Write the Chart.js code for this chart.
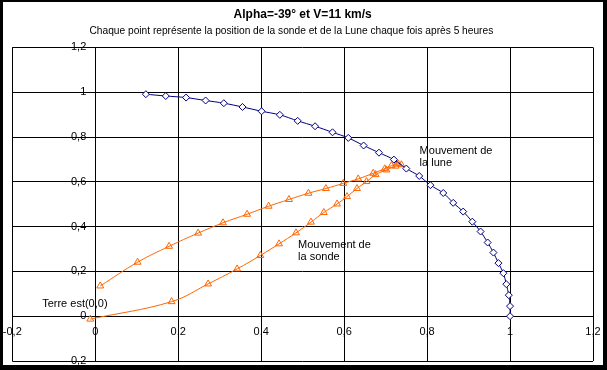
<!DOCTYPE html>
<html>
<head>
<meta charset="utf-8">
<script src="https://cdn.jsdelivr.net/npm/chart.js@4/dist/chart.umd.min.js"></script>
<style>
html,body{margin:0;padding:0;background:#fff;}
#wrap{width:607px;height:370px;position:relative;}
</style>
</head>
<body>
<div id="wrap"><canvas id="c" width="607" height="370"></canvas></div>
<script>
// Moon positions (every 5 hours)
const luneX = [0.122,0.170,0.219,0.266,0.310,0.355,0.401,0.445,0.488,0.530,0.572,0.610,0.647,0.684,0.720,0.750,0.781,0.808,0.839,0.863,0.887,0.909,0.929,0.946,0.960,0.972,0.984,0.991,0.997,1.000,1.000];
const luneY = [0.991,0.983,0.976,0.963,0.951,0.934,0.915,0.899,0.872,0.848,0.821,0.796,0.762,0.730,0.699,0.659,0.626,0.585,0.550,0.506,0.467,0.422,0.378,0.329,0.284,0.237,0.192,0.143,0.094,0.045,0.000];
// Probe positions (every 5 hours)
const sondeX = [-0.012,0.184,0.272,0.342,0.398,0.443,0.484,0.520,0.551,0.583,0.607,0.631,0.654,0.676,0.702,0.724,0.738,0.730,0.714,0.698,0.670,0.634,0.598,0.556,0.514,0.467,0.418,0.366,0.308,0.248,0.178,0.102,0.012];
const sondeY = [-0.013,0.065,0.144,0.211,0.271,0.323,0.372,0.420,0.463,0.501,0.534,0.570,0.601,0.632,0.653,0.670,0.676,0.680,0.672,0.658,0.638,0.613,0.593,0.570,0.549,0.521,0.491,0.455,0.417,0.371,0.312,0.241,0.135];
// Tick labels
const xTickLabels = ['-0,2','0','0,2','0,4','0,6','0,8','1','1,2'];
const yTickLabels = ['-0,2','0','0,2','0,4','0,6','0,8','1','1,2'];
const tickValues = [-0.2,0,0.2,0.4,0.6,0.8,1,1.2];

const TITLE = 'Alpha=-39° et V=11 km/s';
const SUBTITLE = 'Chaque point représente la position de la sonde et de la Lune chaque fois après 5 heures';

const FONT = "'Liberation Sans', Arial, sans-serif";

function toPoints(xs, ys){ return xs.map((x,i)=>({x:x, y:ys[i]})); }
function labelFor(labels, v){
  const i = tickValues.findIndex(t => Math.abs(t - v) < 1e-6);
  return i >= 0 ? labels[i] : '';
}

const annotations = [
  {x:0.782, y:0.738, lines:['Mouvement de','la lune']},
  {x:0.489, y:0.318, lines:['Mouvement de','la sonde']},
  {x:-0.128, y:0.055, lines:['Terre est(0,0)']}
];

// Draws the y tick labels just left of the y axis (which sits at x = 0)
const yLabelPlugin = {
  id:'yLabels',
  afterDraw(chart){
    const ctx = chart.ctx, xs = chart.scales.x, ys = chart.scales.y;
    const axisX = xs.getPixelForValue(0);
    ctx.save();
    ctx.fillStyle = '#000';
    ctx.font = '11px ' + FONT;
    ctx.textAlign = 'right';
    ctx.textBaseline = 'middle';
    ys.ticks.forEach(t => {
      ctx.fillText(labelFor(yTickLabels, t.value), axisX - 9, ys.getPixelForValue(t.value));
    });
    ctx.restore();
  }
};

// Subtitle line (slightly left of centre, as in the original)
const subtitlePlugin = {
  id:'sub',
  afterDraw(chart){
    const ctx = chart.ctx;
    ctx.save();
    ctx.fillStyle = '#000';
    ctx.font = '10.2px ' + FONT;
    ctx.textAlign = 'center';
    ctx.textBaseline = 'middle';
    ctx.fillText(SUBTITLE, chart.width * 0.48, 31.5);
    ctx.restore();
  }
};

const annotPlugin = {
  id:'annot',
  afterDatasetsDraw(chart){
    const ctx = chart.ctx, xs = chart.scales.x, ys = chart.scales.y;
    ctx.save();
    ctx.fillStyle = '#000';
    ctx.font = '11px ' + FONT;
    ctx.textBaseline = 'middle';
    ctx.textAlign = 'left';
    annotations.forEach(a => {
      const px = xs.getPixelForValue(a.x), py = ys.getPixelForValue(a.y);
      a.lines.forEach((t,i) => ctx.fillText(t, px, py + i*12.5));
    });
    ctx.restore();
  }
};

const framePlugin = {
  id:'frame',
  beforeDraw(chart){
    const ctx = chart.ctx;
    ctx.save();
    ctx.fillStyle = '#fff';
    ctx.fillRect(0,0,chart.width,chart.height);
    ctx.restore();
  },
  afterDraw(chart){
    const ctx = chart.ctx, w = chart.width, h = chart.height;
    ctx.save();
    ctx.fillStyle = '#000';
    ctx.fillRect(0,0,w,2);
    ctx.fillRect(0,0,3,h);
    ctx.fillRect(w-4,0,4,h);
    ctx.fillRect(0,h-5,w,5);
    ctx.restore();
  }
};

new Chart(document.getElementById('c'), {
  type:'scatter',
  data:{
    datasets:[
      {
        label:'Lune',
        data: toPoints(luneX, luneY),
        showLine:true,
        borderColor:'#000080',
        borderWidth:1,
        tension:0.3,
        pointStyle:'rectRot',
        pointRadius:3.5,
        pointBackgroundColor:'#fff',
        pointBorderColor:'#000080',
        pointBorderWidth:1
      },
      {
        label:'Sonde',
        data: toPoints(sondeX, sondeY),
        showLine:true,
        borderColor:'#FF6600',
        borderWidth:1,
        tension:0.4,
        pointStyle:'triangle',
        pointRadius:4,
        pointBackgroundColor:'rgba(255,255,255,0)',
        pointBorderColor:'#FF6600',
        pointBorderWidth:1
      }
    ]
  },
  options:{
    responsive:false,
    animation:false,
    layout:{padding:{left:12.3,right:14,top:0,bottom:9}},
    plugins:{
      legend:{display:false},
      tooltip:{enabled:false},
      title:{
        display:true,
        text:TITLE,
        color:'#000',
        font:{family:FONT, size:12, weight:'bold'},
        padding:{top:7, bottom:26}
      },
      subtitle:{display:false}
    },
    scales:{
      x:{
        type:'linear',
        position:{y:0},
        min:-0.2, max:1.2,
        afterBuildTicks(scale){ scale.ticks = tickValues.map(v=>({value:v})); },
        ticks:{
          color:'#000',
          font:{family:FONT, size:11},
          padding:2,
          maxRotation:0,
          autoSkip:false,
          callback:(v)=>labelFor(xTickLabels, v)
        },
        grid:{color:'#000', lineWidth:1, tickLength:7, drawTicks:true},
        border:{color:'#000', width:1}
      },
      y:{
        type:'linear',
        position:{x:0},
        min:-0.2, max:1.2,
        afterBuildTicks(scale){ scale.ticks = tickValues.map(v=>({value:v})); },
        ticks:{ display:false, autoSkip:false },
        grid:{color:'#000', lineWidth:1, tickLength:4, drawTicks:true},
        border:{color:'#000', width:1}
      }
    }
  },
  plugins:[framePlugin, yLabelPlugin, subtitlePlugin, annotPlugin]
});
</script>
</body>
</html>
